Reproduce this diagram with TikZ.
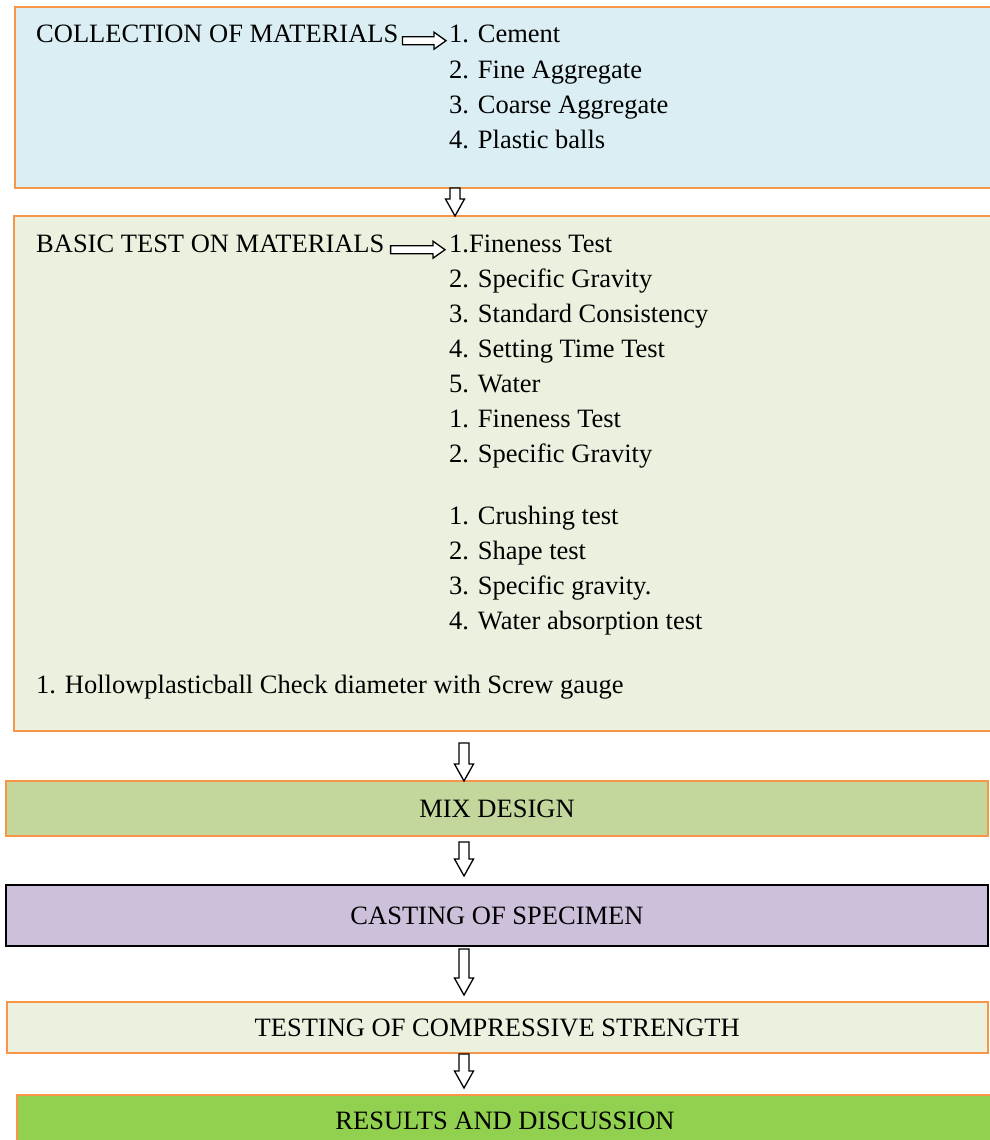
\documentclass[tikz,border=0pt]{standalone}
\usepackage{fontspec}
\setmainfont{Liberation Serif}
\usetikzlibrary{calc,positioning}
\definecolor{boxorange}{HTML}{F79646}
\definecolor{collblue}{HTML}{DAEEF3}
\definecolor{palegreen}{HTML}{EBF1DE}
\definecolor{mixgreen}{HTML}{C3D69B}
\definecolor{castlilac}{HTML}{CCC0DA}
\definecolor{resgreen}{HTML}{92D050}
\tikzset
{
    stagebox/.style   = {rectangle, draw=boxorange, line width=2pt, anchor=north west, inner sep=0pt, outer sep=0pt, font=\fontsize{26.5}{31}\selectfont},
    openbox/.style    = {stagebox, draw=none},
    openside/.style   = {draw=boxorange, line width=2pt},
    itemtext/.style   = {anchor=base west, inner sep=0pt, font=\fontsize{26.5}{31}\selectfont},
    downarrow/.style  = {draw=black, fill=white, line width=1.3pt, to path={let \p1=(\tikztostart), \p2=(\tikztotarget) in
                         (\x1-5pt,\y1) -- (\x1-5pt,\y2+17pt) -- (\x1-9.5pt,\y2+17pt) -- (\x1,\y2) -- (\x1+9.5pt,\y2+17pt) -- (\x1+5pt,\y2+17pt) -- (\x1+5pt,\y1) -- cycle}},
    rightarrow/.style = {draw=black, fill=white, line width=1.3pt, to path={let \p1=(\tikztostart), \p2=(\tikztotarget) in
                         (\x1,\y1+4pt) -- (\x2-12pt,\y1+4pt) -- (\x2-12pt,\y1+8.5pt) -- (\x2,\y1) -- (\x2-12pt,\y1-8.5pt) -- (\x2-12pt,\y1-4pt) -- (\x1,\y1-4pt) -- cycle}}
}

\begin{document}
\begin{tikzpicture}[x=1pt, y=-1pt]
	 \newcommand\LINEDY{35}
	 \newcommand\ITEMX{449}
	 \newcommand\TITLEX{36}

   \useasboundingbox (0,0) rectangle (989,1140);
   \fill[white] (0,0) rectangle (989,1140);

   % stages (the wide ones run on past the right edge)
   \node (coll)  [openbox,  fill=collblue,  minimum width=1000, minimum height=181] at (15, 7)     {};
   \node (basic) [openbox,  fill=palegreen, minimum width=1000, minimum height=515] at (14, 216)   {};
   \node (mix)   [stagebox, fill=mixgreen,  minimum width=982,  minimum height=55]  at (6, 781)    {MIX DESIGN};
   \node (cast)  [stagebox, fill=castlilac, draw=black, line width=2.5pt, minimum width=982, minimum height=61] at (6, 885) {CASTING OF SPECIMEN};
   \node (test)  [stagebox, fill=palegreen, minimum width=981.5, minimum height=51] at (6.5, 1002) {TESTING OF COMPRESSIVE STRENGTH};
   \node (res)   [openbox,  fill=resgreen,  minimum width=1000, minimum height=51]  at (16.5, 1095) {};
   \draw[openside] (coll.north east)  -- (coll.north west)  -- (coll.south west)  -- (coll.south east);
   \draw[openside] (basic.north east) -- (basic.north west) -- (basic.south west) -- (basic.south east);
   \draw[openside] (res.north east)   -- (res.north west)   -- (res.south west);
   \node (restxt) [itemtext, anchor=base] at (505, 1129) {RESULTS AND DISCUSSION};

   % collection of materials
   \node (colltitle) [itemtext] at (\TITLEX, 43)                          {COLLECTION OF MATERIALS};
   \node (c1) [itemtext] at (\ITEMX, 43)                                  {1. Cement};
   \node (c2) [itemtext] at ([shift=({0, \LINEDY})]c1.base west)          {2. Fine Aggregate};
   \node (c3) [itemtext] at ([shift=({0, \LINEDY})]c2.base west)          {3. Coarse Aggregate};
   \node (c4) [itemtext] at ([shift=({0, \LINEDY})]c3.base west)          {4. Plastic balls};

   % basic tests
   \node (basictitle) [itemtext] at (\TITLEX, 252)                        {BASIC TEST ON MATERIALS};
   \node (b1)  [itemtext] at (\ITEMX, 252)                                {1.Fineness Test};
   \node (b2)  [itemtext] at ([shift=({0, \LINEDY})]b1.base west)         {2. Specific Gravity};
   \node (b3)  [itemtext] at ([shift=({0, \LINEDY})]b2.base west)         {3. Standard Consistency};
   \node (b4)  [itemtext] at ([shift=({0, \LINEDY})]b3.base west)         {4. Setting Time Test};
   \node (b5)  [itemtext] at ([shift=({0, \LINEDY})]b4.base west)         {5. Water};
   \node (b6)  [itemtext] at ([shift=({0, \LINEDY})]b5.base west)         {1. Fineness Test};
   \node (b7)  [itemtext] at ([shift=({0, \LINEDY})]b6.base west)         {2. Specific Gravity};
   \node (b8)  [itemtext] at ([shift=({0, 62})]b7.base west)              {1. Crushing test};
   \node (b9)  [itemtext] at ([shift=({0, \LINEDY})]b8.base west)         {2. Shape test};
   \node (b10) [itemtext] at ([shift=({0, \LINEDY})]b9.base west)         {3. Specific gravity.};
   \node (b11) [itemtext] at ([shift=({0, \LINEDY})]b10.base west)        {4. Water absorption test};
   \node (hb)  [itemtext] at (\TITLEX, 693)                               {1. Hollowplasticball Check diameter with Screw gauge};

   % arrows
   \coordinate (ax1) at (455, 0);
   \coordinate (ax)  at (464, 0);
   \draw[rightarrow] ([xshift=4pt]colltitle.mid east)  to ([xshift=-3pt]c1.mid west);
   \draw[rightarrow] ([xshift=6pt]basictitle.mid east) to ([xshift=-4pt]b1.mid west);
   \draw[downarrow]  (coll.south -| ax1)              to (basic.north -| ax1);
   \draw[downarrow]  ($(basic.south -| ax)+(0,12)$)   to (mix.north -| ax);
   \draw[downarrow]  ($(mix.south -| ax)+(0,6)$)      to ($(cast.north -| ax)+(0,-9)$);
   \draw[downarrow]  ($(cast.south -| ax)+(0,3)$)     to ($(test.north -| ax)+(0,-7)$);
   \draw[downarrow]  ($(test.south -| ax)+(0,1)$)     to ($(res.north -| ax)+(0,-7)$);
\end{tikzpicture}
\end{document}
